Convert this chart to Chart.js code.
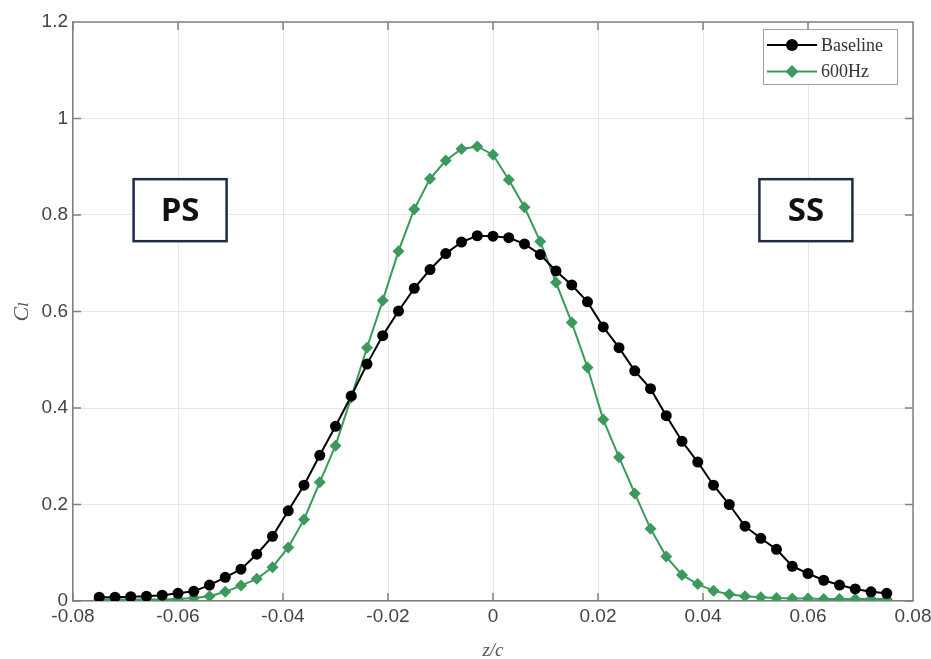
<!DOCTYPE html>
<html>
<head>
<meta charset="utf-8">
<script src="https://cdn.jsdelivr.net/npm/chart.js@4.4.1/dist/chart.umd.min.js"></script>
<style>
  html, body { margin: 0; padding: 0; background: #fff; }
  #wrap { width: 931px; height: 659px; }
</style>
</head>
<body>
<div id="wrap"><canvas id="lineGraph" width="931" height="659"></canvas></div>
<script>
// spanwise stations z/c
var zc = [-0.075, -0.072, -0.069, -0.066, -0.063, -0.060, -0.057, -0.054, -0.051, -0.048,
  -0.045, -0.042, -0.039, -0.036, -0.033, -0.030, -0.027, -0.024, -0.021, -0.018,
  -0.015, -0.012, -0.009, -0.006, -0.003, 0.000, 0.003, 0.006, 0.009, 0.012,
  0.015, 0.018, 0.021, 0.024, 0.027, 0.030, 0.033, 0.036, 0.039, 0.042,
  0.045, 0.048, 0.051, 0.054, 0.057, 0.060, 0.063, 0.066, 0.069, 0.072, 0.075];

// Cl for the baseline case
var baseline = [0.008, 0.008, 0.009, 0.010, 0.012, 0.016, 0.020, 0.033, 0.049, 0.066,
  0.097, 0.134, 0.187, 0.240, 0.302, 0.362, 0.425, 0.491, 0.550, 0.601,
  0.648, 0.687, 0.720, 0.744, 0.757, 0.756, 0.753, 0.740, 0.718, 0.684,
  0.655, 0.620, 0.568, 0.525, 0.477, 0.440, 0.384, 0.331, 0.288, 0.240,
  0.200, 0.155, 0.130, 0.107, 0.072, 0.057, 0.043, 0.033, 0.025, 0.019, 0.016];

// Cl with 600Hz forcing
var hz600 = [0.003, 0.003, 0.003, 0.003, 0.003, 0.004, 0.006, 0.010, 0.019, 0.032,
  0.046, 0.070, 0.111, 0.169, 0.246, 0.322, 0.422, 0.525, 0.623, 0.725,
  0.812, 0.875, 0.913, 0.937, 0.942, 0.925, 0.873, 0.816, 0.745, 0.660,
  0.577, 0.484, 0.376, 0.298, 0.223, 0.150, 0.092, 0.054, 0.035, 0.021,
  0.014, 0.010, 0.008, 0.006, 0.005, 0.005, 0.004, 0.004, 0.004, 0.004, 0.004];

var xTicks = [-0.08, -0.06, -0.04, -0.02, 0, 0.02, 0.04, 0.06, 0.08];
var yTicks = [0, 0.2, 0.4, 0.6, 0.8, 1, 1.2];

// side labels (pressure side / suction side)
var sideLabels = ['PS', 'SS'];
var sideX = [-0.0596, 0.0596];
var sideY = [0.81, 0.81];

var green = '#3b9a5b';
var tickFont = { family: '"Liberation Sans", Arial, sans-serif', size: 19 };
var serif = '"Liberation Serif", "DejaVu Serif", serif';

function fmt(v) {
  return v === 0 ? '0' : String(+v.toFixed(2));
}

function pts(ys) {
  return zc.map(function (x, i) { return { x: x, y: ys[i] }; });
}

// matlab style box: top/right lines plus inward ticks on all sides
var boxPlugin = {
  id: 'box',
  beforeDatasetsDraw: function (chart) {
    var c = chart.ctx, a = chart.chartArea;
    var sx = chart.scales.x, sy = chart.scales.y;
    c.save();
    c.strokeStyle = '#808080';
    c.lineWidth = 1.5;
    c.beginPath();
    c.moveTo(a.left, a.top); c.lineTo(a.right, a.top); c.lineTo(a.right, a.bottom);
    xTicks.forEach(function (v) {
      var px = sx.getPixelForValue(v);
      c.moveTo(px, a.bottom); c.lineTo(px, a.bottom - 8);
      c.moveTo(px, a.top); c.lineTo(px, a.top + 8);
    });
    yTicks.forEach(function (v) {
      var py = sy.getPixelForValue(v);
      c.moveTo(a.left, py); c.lineTo(a.left + 8, py);
      c.moveTo(a.right, py); c.lineTo(a.right - 8, py);
    });
    c.stroke();
    c.restore();
  }
};

function drawMarker(c, style, x, y, r, color) {
  c.fillStyle = color;
  c.beginPath();
  if (style === 'rectRot') {
    c.moveTo(x, y - r); c.lineTo(x + r, y); c.lineTo(x, y + r); c.lineTo(x - r, y);
    c.closePath();
  } else {
    c.arc(x, y, r, 0, Math.PI * 2);
  }
  c.fill();
}

// legend box in the top right corner, drawn from the datasets
var legendPlugin = {
  id: 'boxLegend',
  afterDraw: function (chart) {
    var c = chart.ctx, a = chart.chartArea;
    var right = a.right - 16, top = a.top + 7, w = 134, h = 55;
    c.save();
    c.fillStyle = '#fff';
    c.fillRect(right - w, top, w, h);
    c.strokeStyle = '#a0a0a0';
    c.lineWidth = 1;
    c.strokeRect(right - w + 0.5, top + 0.5, w, h);
    chart.data.datasets.forEach(function (ds, i) {
      var y = top + 16 + i * 26.5;
      var x0 = right - w + 4;
      c.strokeStyle = ds.borderColor;
      c.lineWidth = 2;
      c.beginPath(); c.moveTo(x0, y); c.lineTo(x0 + 50, y); c.stroke();
      drawMarker(c, ds.pointStyle, x0 + 25, y, ds.pointRadius + 0.5, ds.pointBackgroundColor);
      c.fillStyle = '#333';
      c.font = '18px ' + serif;
      c.textAlign = 'left';
      c.textBaseline = 'middle';
      c.fillText(ds.label, x0 + 54, y + 1);
    });
    c.restore();
  }
};

// PS / SS boxes placed in data coordinates
var sidePlugin = {
  id: 'sides',
  afterDraw: function (chart) {
    var c = chart.ctx, sx = chart.scales.x, sy = chart.scales.y;
    c.save();
    sideLabels.forEach(function (t, i) {
      var cx = sx.getPixelForValue(sideX[i]), cy = sy.getPixelForValue(sideY[i]);
      var w = 93, h = 62;
      c.fillStyle = '#fff';
      c.fillRect(cx - w / 2, cy - h / 2, w, h);
      c.strokeStyle = '#1f2b47';
      c.lineWidth = 2.5;
      c.strokeRect(cx - w / 2, cy - h / 2, w, h);
      c.fillStyle = '#111';
      c.font = 'bold 33px "Open Sans", "Liberation Sans", sans-serif';
      c.textAlign = 'center';
      c.textBaseline = 'middle';
      c.fillText(t, cx, cy + 1);
    });
    c.restore();
  }
};

var ctx_line = document.getElementById('lineGraph').getContext('2d');
var myLineChart = new Chart(ctx_line, {
  type: 'line',
  data: {
    datasets: [{
      label: 'Baseline',
      data: pts(baseline),
      borderColor: '#000',
      backgroundColor: '#000',
      pointBackgroundColor: '#000',
      pointBorderWidth: 0,
      pointStyle: 'circle',
      pointRadius: 5.5,
      borderWidth: 2,
      tension: 0
    }, {
      label: '600Hz',
      data: pts(hz600),
      borderColor: green,
      backgroundColor: green,
      pointBackgroundColor: green,
      pointBorderWidth: 0,
      pointStyle: 'rectRot',
      pointRadius: 6,
      borderWidth: 2,
      tension: 0
    }]
  },
  options: {
    responsive: false,
    animation: false,
    layout: { padding: { top: 22, right: 18, left: 0, bottom: 0 } },
    plugins: { legend: { display: false }, tooltip: { enabled: false } },
    scales: {
      x: {
        type: 'linear',
        min: -0.08,
        max: 0.08,
        afterBuildTicks: function (s) { s.ticks = xTicks.map(function (v) { return { value: v }; }); },
        afterFit: function (s) { s.height = 58; s.paddingLeft = 0; s.paddingRight = 0; },
        ticks: { callback: fmt, font: tickFont, color: '#444', padding: 4, maxRotation: 0, autoSkip: false },
        grid: { color: '#e6e6e6', drawTicks: false },
        border: { color: '#808080', width: 1.5 },
        title: { display: true, text: 'z/c', color: '#555', font: { family: serif, size: 19, style: 'italic' }, padding: { top: 0, bottom: -3 } }
      },
      y: {
        min: 0,
        max: 1.2,
        afterBuildTicks: function (s) { s.ticks = yTicks.map(function (v) { return { value: v }; }); },
        afterFit: function (s) { s.width = 73; s.paddingTop = 0; s.paddingBottom = 0; },
        ticks: { callback: fmt, font: tickFont, color: '#444', padding: 5, autoSkip: false },
        grid: { color: '#e6e6e6', drawTicks: false },
        border: { color: '#808080', width: 1.5 },
        title: { display: true, text: 'C\u2097', color: '#555', font: { family: serif, size: 22, style: 'italic' }, padding: { top: 9, bottom: 0 } }
      }
    }
  },
  plugins: [boxPlugin, sidePlugin, legendPlugin]
});
</script>
</body>
</html>
